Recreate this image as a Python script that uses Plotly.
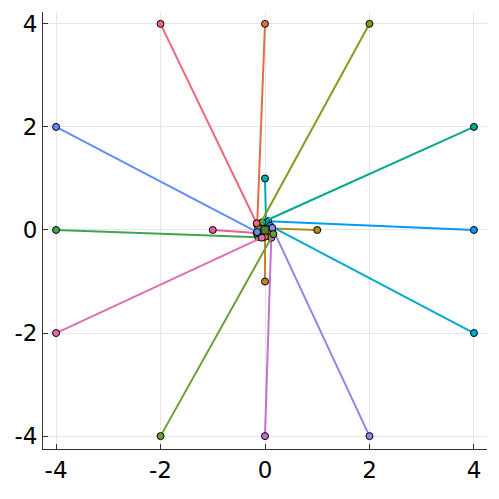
import plotly.graph_objects as go

# Outer end points of each segment (series order)
outer_x = [4, 0, -4, 0, 1, 0, -1, 0, 4, 2, 4, 2, -4, -2, -4, -2]
outer_y = [0, 4, 0, -4, 0, 1, 0, -1, 2, 4, -2, -4, 2, 4, -2, -4]
# Inner end points (small ring around the origin)
inner_x = [0.06, -0.15, -0.13, 0.12, 0.14, 0.02, -0.16, 0.0, -0.05, -0.13, 0.10, 0.14, -0.15, -0.16, -0.06, 0.16]
inner_y = [0.17, 0.10, -0.14, -0.15, 0.03, 0.15, -0.06, -0.13, 0.15, 0.05, 0.08, 0.04, -0.04, 0.13, -0.15, -0.08]
colors = ["#009AFA", "#E36F47", "#3EA44E", "#C371D2", "#AC8E18", "#00AAAE", "#ED5E93", "#C68225",
          "#00A98D", "#8E971D", "#00A9CD", "#9B7FE9", "#618DF6", "#F0667A", "#DD6EB0", "#6C9F33"]
center_x = [0.0]
center_y = [0.0]
tick_vals = [-4, -2, 0, 2, 4]
tick_text = ["-4", "-2", "0", "2", "4"]

fig = go.Figure()
for i in range(len(outer_x)):
    fig.add_trace(go.Scatter(
        x=[inner_x[i], outer_x[i]], y=[inner_y[i], outer_y[i]],
        mode="lines+markers",
        line=dict(color=colors[i], width=2),
        marker=dict(color=colors[i], size=7, line=dict(color="black", width=1)),
        showlegend=False, hoverinfo="skip"))
fig.add_trace(go.Scatter(
    x=center_x, y=center_y, mode="markers",
    marker=dict(color="#557A2C", size=8, symbol="square", line=dict(color="black", width=1)),
    showlegend=False, hoverinfo="skip"))

axis_common = dict(
    tickvals=tick_vals, ticktext=tick_text,
    showgrid=True, gridcolor="#E6E6E6", gridwidth=1,
    zeroline=False, showline=True, linecolor="#333333", linewidth=1,
    ticks="inside", ticklen=5, tickcolor="#333333",
    tickfont=dict(family="DejaVu Sans", size=23, color="black"),
    automargin=False,
)
fig.update_layout(
    width=491, height=491,
    margin=dict(l=35, r=12, t=4, b=50),
    plot_bgcolor="white", paper_bgcolor="white",
    xaxis=dict(range=[-4.25, 4.25], **axis_common),
    yaxis=dict(range=[-4.25, 4.23], **axis_common),
)
fig.write_html("out.html")
